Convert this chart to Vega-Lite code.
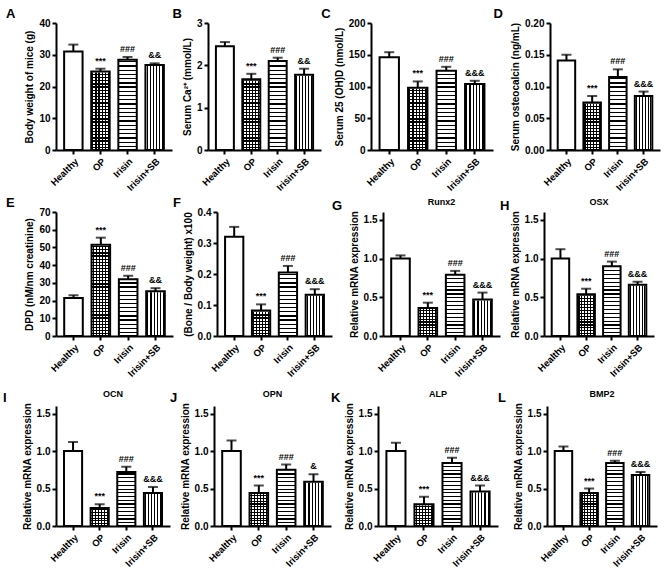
{
"$schema":"https://vega.github.io/schema/vega-lite/v6.json",
"padding":{"left":3,"top":8,"right":4,"bottom":2},
"data":{"values":[
{"p":"A","g":"Healthy","v":31,"hi":33.2,"s":""},{"p":"A","g":"OP","v":24.7,"hi":25.6,"s":"***"},{"p":"A","g":"Irisin","v":28.4,"hi":29.3,"s":"###"},{"p":"A","g":"Irisin+SB","v":26.8,"hi":27.3,"s":"&&"},
{"p":"B","g":"Healthy","v":2.45,"hi":2.55,"s":""},{"p":"B","g":"OP","v":1.67,"hi":1.8,"s":"***"},{"p":"B","g":"Irisin","v":2.1,"hi":2.18,"s":"###"},{"p":"B","g":"Irisin+SB","v":1.78,"hi":1.92,"s":"&&"},
{"p":"C","g":"Healthy","v":146,"hi":154,"s":""},{"p":"C","g":"OP","v":98,"hi":108,"s":"***"},{"p":"C","g":"Irisin","v":125,"hi":131,"s":"###"},{"p":"C","g":"Irisin+SB","v":104,"hi":109,"s":"&&&"},
{"p":"D","g":"Healthy","v":0.141,"hi":0.15,"s":""},{"p":"D","g":"OP","v":0.075,"hi":0.085,"s":"***"},{"p":"D","g":"Irisin","v":0.115,"hi":0.127,"s":"###"},{"p":"D","g":"Irisin+SB","v":0.085,"hi":0.092,"s":"&&&"},
{"p":"E","g":"Healthy","v":21.5,"hi":23,"s":""},{"p":"E","g":"OP","v":51.5,"hi":55.5,"s":"***"},{"p":"E","g":"Irisin","v":32,"hi":34,"s":"###"},{"p":"E","g":"Irisin+SB","v":25.3,"hi":27,"s":"&&"},
{"p":"F","g":"Healthy","v":0.32,"hi":0.352,"s":""},{"p":"F","g":"OP","v":0.082,"hi":0.102,"s":"***"},{"p":"F","g":"Irisin","v":0.205,"hi":0.226,"s":"###"},{"p":"F","g":"Irisin+SB","v":0.133,"hi":0.151,"s":"&&&"},
{"p":"G","g":"Healthy","v":1.0,"hi":1.04,"s":""},{"p":"G","g":"OP","v":0.36,"hi":0.43,"s":"***"},{"p":"G","g":"Irisin","v":0.79,"hi":0.84,"s":"###"},{"p":"G","g":"Irisin+SB","v":0.47,"hi":0.56,"s":"&&&"},
{"p":"H","g":"Healthy","v":1.0,"hi":1.12,"s":""},{"p":"H","g":"OP","v":0.54,"hi":0.61,"s":"***"},{"p":"H","g":"Irisin","v":0.9,"hi":0.96,"s":"###"},{"p":"H","g":"Irisin+SB","v":0.66,"hi":0.7,"s":"&&&"},
{"p":"I","g":"Healthy","v":1.0,"hi":1.12,"s":""},{"p":"I","g":"OP","v":0.24,"hi":0.29,"s":"***"},{"p":"I","g":"Irisin","v":0.72,"hi":0.79,"s":"###"},{"p":"I","g":"Irisin+SB","v":0.44,"hi":0.52,"s":"&&&"},
{"p":"J","g":"Healthy","v":1.0,"hi":1.14,"s":""},{"p":"J","g":"OP","v":0.44,"hi":0.54,"s":"***"},{"p":"J","g":"Irisin","v":0.75,"hi":0.82,"s":"###"},{"p":"J","g":"Irisin+SB","v":0.59,"hi":0.69,"s":"&"},
{"p":"K","g":"Healthy","v":1.0,"hi":1.11,"s":""},{"p":"K","g":"OP","v":0.29,"hi":0.39,"s":"***"},{"p":"K","g":"Irisin","v":0.84,"hi":0.91,"s":"###"},{"p":"K","g":"Irisin+SB","v":0.46,"hi":0.54,"s":"&&&"},
{"p":"L","g":"Healthy","v":1.0,"hi":1.06,"s":""},{"p":"L","g":"OP","v":0.44,"hi":0.5,"s":"***"},{"p":"L","g":"Irisin","v":0.84,"hi":0.87,"s":"###"},{"p":"L","g":"Irisin+SB","v":0.68,"hi":0.72,"s":"&&&"}
]},
"spacing":4,
"vconcat":[
{"spacing":0,"hconcat":[
{"width":116,"height":127,"title":{"text":"A","dx":-19},"transform":[{"filter":"datum.p==='A'"}],
 "encoding":{"x":{"field":"g","type":"nominal","title":null,"scale":{"domain":["Healthy","OP","Irisin","Irisin+SB"],"paddingInner":0.32,"paddingOuter":0.3}}},
 "layer":[
  {"transform":[{"filter":"datum.g==='OP'"}],"mark":{"type":"bar","style":"ho"},"encoding":{"y":{"datum":40,"type":"quantitative","scale":{"domain":[0,40]},"axis":{"values":[0,10,20,30,40],"tickCount":50,"format":"d","title":"Body weight of mice (g)"}},"y2":{"datum":0}}},
  {"transform":[{"filter":"datum.g==='Irisin'"}],"mark":{"type":"bar","style":"hi"},"encoding":{"y":{"datum":40,"type":"quantitative"},"y2":{"datum":0}}},
  {"transform":[{"filter":"datum.g==='OP'||datum.g==='Irisin+SB'"}],"mark":{"type":"bar","style":"vs"},"encoding":{"y":{"datum":40,"type":"quantitative"},"y2":{"datum":0}}},
  {"mark":{"type":"bar","fill":"white","stroke":"white","strokeWidth":2},"encoding":{"y":{"field":"v","type":"quantitative"},"y2":{"datum":40}}},
  {"mark":{"type":"bar","fill":"transparent","stroke":"black","strokeWidth":2},"encoding":{"y":{"field":"v","type":"quantitative"}}},
  {"mark":{"type":"rule","color":"black","strokeWidth":2},"encoding":{"y":{"field":"v","type":"quantitative"},"y2":{"field":"hi"}}},
  {"mark":{"type":"tick","color":"black","thickness":2,"size":10},"encoding":{"y":{"field":"hi","type":"quantitative"}}},
  {"mark":{"type":"text","fontSize":9,"fontWeight":"bold","baseline":"bottom","dy":-3},"encoding":{"y":{"field":"hi","type":"quantitative"},"text":{"field":"s"}}}
 ]},
{"width":113,"height":127,"title":{"text":"B"},"transform":[{"filter":"datum.p==='B'"}],
 "encoding":{"x":{"field":"g","type":"nominal","title":null,"scale":{"domain":["Healthy","OP","Irisin","Irisin+SB"],"paddingInner":0.32,"paddingOuter":0.3}}},
 "layer":[
  {"transform":[{"filter":"datum.g==='OP'"}],"mark":{"type":"bar","style":"ho"},"encoding":{"y":{"datum":3,"type":"quantitative","scale":{"domain":[0,3]},"axis":{"values":[0,1,2,3],"tickCount":50,"format":"d","title":"Serum Ca²⁺ (mmol/L)"}},"y2":{"datum":0}}},
  {"transform":[{"filter":"datum.g==='Irisin'"}],"mark":{"type":"bar","style":"hi"},"encoding":{"y":{"datum":3,"type":"quantitative"},"y2":{"datum":0}}},
  {"transform":[{"filter":"datum.g==='OP'||datum.g==='Irisin+SB'"}],"mark":{"type":"bar","style":"vs"},"encoding":{"y":{"datum":3,"type":"quantitative"},"y2":{"datum":0}}},
  {"mark":{"type":"bar","fill":"white","stroke":"white","strokeWidth":2},"encoding":{"y":{"field":"v","type":"quantitative"},"y2":{"datum":3}}},
  {"mark":{"type":"bar","fill":"transparent","stroke":"black","strokeWidth":2},"encoding":{"y":{"field":"v","type":"quantitative"}}},
  {"mark":{"type":"rule","color":"black","strokeWidth":2},"encoding":{"y":{"field":"v","type":"quantitative"},"y2":{"field":"hi"}}},
  {"mark":{"type":"tick","color":"black","thickness":2,"size":10},"encoding":{"y":{"field":"hi","type":"quantitative"}}},
  {"mark":{"type":"text","fontSize":9,"fontWeight":"bold","baseline":"bottom","dy":-3},"encoding":{"y":{"field":"hi","type":"quantitative"},"text":{"field":"s"}}}
 ]},
{"width":122,"height":127,"title":{"text":"C","dx":-13},"transform":[{"filter":"datum.p==='C'"}],
 "encoding":{"x":{"field":"g","type":"nominal","title":null,"scale":{"domain":["Healthy","OP","Irisin","Irisin+SB"],"paddingInner":0.32,"paddingOuter":0.3}}},
 "layer":[
  {"transform":[{"filter":"datum.g==='OP'"}],"mark":{"type":"bar","style":"ho"},"encoding":{"y":{"datum":200,"type":"quantitative","scale":{"domain":[0,200]},"axis":{"values":[0,50,100,150,200],"tickCount":50,"format":"d","title":"Serum 25 (OH)D (nmol/L)"}},"y2":{"datum":0}}},
  {"transform":[{"filter":"datum.g==='Irisin'"}],"mark":{"type":"bar","style":"hi"},"encoding":{"y":{"datum":200,"type":"quantitative"},"y2":{"datum":0}}},
  {"transform":[{"filter":"datum.g==='OP'||datum.g==='Irisin+SB'"}],"mark":{"type":"bar","style":"vs"},"encoding":{"y":{"datum":200,"type":"quantitative"},"y2":{"datum":0}}},
  {"mark":{"type":"bar","fill":"white","stroke":"white","strokeWidth":2},"encoding":{"y":{"field":"v","type":"quantitative"},"y2":{"datum":200}}},
  {"mark":{"type":"bar","fill":"transparent","stroke":"black","strokeWidth":2},"encoding":{"y":{"field":"v","type":"quantitative"}}},
  {"mark":{"type":"rule","color":"black","strokeWidth":2},"encoding":{"y":{"field":"v","type":"quantitative"},"y2":{"field":"hi"}}},
  {"mark":{"type":"tick","color":"black","thickness":2,"size":10},"encoding":{"y":{"field":"hi","type":"quantitative"}}},
  {"mark":{"type":"text","fontSize":9,"fontWeight":"bold","baseline":"bottom","dy":-3},"encoding":{"y":{"field":"hi","type":"quantitative"},"text":{"field":"s"}}}
 ]},
{"width":110,"height":127,"title":{"text":"D","dx":-17},"transform":[{"filter":"datum.p==='D'"}],
 "encoding":{"x":{"field":"g","type":"nominal","title":null,"scale":{"domain":["Healthy","OP","Irisin","Irisin+SB"],"paddingInner":0.32,"paddingOuter":0.3}}},
 "layer":[
  {"transform":[{"filter":"datum.g==='OP'"}],"mark":{"type":"bar","style":"ho"},"encoding":{"y":{"datum":0.2,"type":"quantitative","scale":{"domain":[0,0.2]},"axis":{"values":[0,0.05,0.1,0.15,0.2],"tickCount":50,"format":".2f","title":"Serum osteocalcin (ng/mL)"}},"y2":{"datum":0}}},
  {"transform":[{"filter":"datum.g==='Irisin'"}],"mark":{"type":"bar","style":"hi"},"encoding":{"y":{"datum":0.2,"type":"quantitative"},"y2":{"datum":0}}},
  {"transform":[{"filter":"datum.g==='OP'||datum.g==='Irisin+SB'"}],"mark":{"type":"bar","style":"vs"},"encoding":{"y":{"datum":0.2,"type":"quantitative"},"y2":{"datum":0}}},
  {"mark":{"type":"bar","fill":"white","stroke":"white","strokeWidth":2},"encoding":{"y":{"field":"v","type":"quantitative"},"y2":{"datum":0.2}}},
  {"mark":{"type":"bar","fill":"transparent","stroke":"black","strokeWidth":2},"encoding":{"y":{"field":"v","type":"quantitative"}}},
  {"mark":{"type":"rule","color":"black","strokeWidth":2},"encoding":{"y":{"field":"v","type":"quantitative"},"y2":{"field":"hi"}}},
  {"mark":{"type":"tick","color":"black","thickness":2,"size":10},"encoding":{"y":{"field":"hi","type":"quantitative"}}},
  {"mark":{"type":"text","fontSize":9,"fontWeight":"bold","baseline":"bottom","dy":-3},"encoding":{"y":{"field":"hi","type":"quantitative"},"text":{"field":"s"}}}
 ]}
]},
{"spacing":11,"vconcat":[
{"spacing":0,"hconcat":[
{"width":117,"height":124,"title":{"text":"E","dx":-19},"transform":[{"filter":"datum.p==='E'"}],
 "encoding":{"x":{"field":"g","type":"nominal","title":null,"scale":{"domain":["Healthy","OP","Irisin","Irisin+SB"],"paddingInner":0.32,"paddingOuter":0.3}}},
 "layer":[
  {"transform":[{"filter":"datum.g==='OP'"}],"mark":{"type":"bar","style":"ho"},"encoding":{"y":{"datum":70,"type":"quantitative","scale":{"domain":[0,70]},"axis":{"values":[0,10,20,30,40,50,60,70],"tickCount":50,"format":"d","title":"DPD (nM/nm creatinine)"}},"y2":{"datum":0}}},
  {"transform":[{"filter":"datum.g==='Irisin'"}],"mark":{"type":"bar","style":"hi"},"encoding":{"y":{"datum":70,"type":"quantitative"},"y2":{"datum":0}}},
  {"transform":[{"filter":"datum.g==='OP'||datum.g==='Irisin+SB'"}],"mark":{"type":"bar","style":"vs"},"encoding":{"y":{"datum":70,"type":"quantitative"},"y2":{"datum":0}}},
  {"mark":{"type":"bar","fill":"white","stroke":"white","strokeWidth":2},"encoding":{"y":{"field":"v","type":"quantitative"},"y2":{"datum":70}}},
  {"mark":{"type":"bar","fill":"transparent","stroke":"black","strokeWidth":2},"encoding":{"y":{"field":"v","type":"quantitative"}}},
  {"mark":{"type":"rule","color":"black","strokeWidth":2},"encoding":{"y":{"field":"v","type":"quantitative"},"y2":{"field":"hi"}}},
  {"mark":{"type":"tick","color":"black","thickness":2,"size":10},"encoding":{"y":{"field":"hi","type":"quantitative"}}},
  {"mark":{"type":"text","fontSize":9,"fontWeight":"bold","baseline":"bottom","dy":-3},"encoding":{"y":{"field":"hi","type":"quantitative"},"text":{"field":"s"}}}
 ]},
{"width":115,"height":124,"title":{"text":"F"},"transform":[{"filter":"datum.p==='F'"}],
 "encoding":{"x":{"field":"g","type":"nominal","title":null,"scale":{"domain":["Healthy","OP","Irisin","Irisin+SB"],"paddingInner":0.32,"paddingOuter":0.3}}},
 "layer":[
  {"transform":[{"filter":"datum.g==='OP'"}],"mark":{"type":"bar","style":"ho"},"encoding":{"y":{"datum":0.4,"type":"quantitative","scale":{"domain":[0,0.4]},"axis":{"values":[0,0.1,0.2,0.3,0.4],"tickCount":50,"format":".1f","title":"(Bone / Body weight) x100"}},"y2":{"datum":0}}},
  {"transform":[{"filter":"datum.g==='Irisin'"}],"mark":{"type":"bar","style":"hi"},"encoding":{"y":{"datum":0.4,"type":"quantitative"},"y2":{"datum":0}}},
  {"transform":[{"filter":"datum.g==='OP'||datum.g==='Irisin+SB'"}],"mark":{"type":"bar","style":"vs"},"encoding":{"y":{"datum":0.4,"type":"quantitative"},"y2":{"datum":0}}},
  {"mark":{"type":"bar","fill":"white","stroke":"white","strokeWidth":2},"encoding":{"y":{"field":"v","type":"quantitative"},"y2":{"datum":0.4}}},
  {"mark":{"type":"bar","fill":"transparent","stroke":"black","strokeWidth":2},"encoding":{"y":{"field":"v","type":"quantitative"}}},
  {"mark":{"type":"rule","color":"black","strokeWidth":2},"encoding":{"y":{"field":"v","type":"quantitative"},"y2":{"field":"hi"}}},
  {"mark":{"type":"tick","color":"black","thickness":2,"size":10},"encoding":{"y":{"field":"hi","type":"quantitative"}}},
  {"mark":{"type":"text","fontSize":9,"fontWeight":"bold","baseline":"bottom","dy":-3},"encoding":{"y":{"field":"hi","type":"quantitative"},"text":{"field":"s"}}}
 ]},
{"title":{"text":"G","offset":-15,"dx":-17},"vconcat":[
{"width":117,"height":124,"title":{"text":"Runx2","anchor":"middle","frame":"group","fontSize":9,"dx":0,"offset":3},"transform":[{"filter":"datum.p==='G'"}],
 "encoding":{"x":{"field":"g","type":"nominal","title":null,"scale":{"domain":["Healthy","OP","Irisin","Irisin+SB"],"paddingInner":0.32,"paddingOuter":0.3}}},
 "layer":[
  {"transform":[{"filter":"datum.g==='OP'"}],"mark":{"type":"bar","style":"ho"},"encoding":{"y":{"datum":1.5,"type":"quantitative","scale":{"domain":[0,1.5]},"axis":{"values":[0,0.5,1,1.5],"tickCount":50,"format":".1f","title":"Relative mRNA expression"}},"y2":{"datum":0}}},
  {"transform":[{"filter":"datum.g==='Irisin'"}],"mark":{"type":"bar","style":"hi"},"encoding":{"y":{"datum":1.5,"type":"quantitative"},"y2":{"datum":0}}},
  {"transform":[{"filter":"datum.g==='OP'||datum.g==='Irisin+SB'"}],"mark":{"type":"bar","style":"vs"},"encoding":{"y":{"datum":1.5,"type":"quantitative"},"y2":{"datum":0}}},
  {"mark":{"type":"bar","fill":"white","stroke":"white","strokeWidth":2},"encoding":{"y":{"field":"v","type":"quantitative"},"y2":{"datum":1.5}}},
  {"mark":{"type":"bar","fill":"transparent","stroke":"black","strokeWidth":2},"encoding":{"y":{"field":"v","type":"quantitative"}}},
  {"mark":{"type":"rule","color":"black","strokeWidth":2},"encoding":{"y":{"field":"v","type":"quantitative"},"y2":{"field":"hi"}}},
  {"mark":{"type":"tick","color":"black","thickness":2,"size":10},"encoding":{"y":{"field":"hi","type":"quantitative"}}},
  {"mark":{"type":"text","fontSize":9,"fontWeight":"bold","baseline":"bottom","dy":-3},"encoding":{"y":{"field":"hi","type":"quantitative"},"text":{"field":"s"}}}
 ]}]},
{"title":{"text":"H","offset":-15},"vconcat":[
{"width":110,"height":124,"title":{"text":"OSX","anchor":"middle","frame":"group","fontSize":9,"dx":0,"offset":3},"transform":[{"filter":"datum.p==='H'"}],
 "encoding":{"x":{"field":"g","type":"nominal","title":null,"scale":{"domain":["Healthy","OP","Irisin","Irisin+SB"],"paddingInner":0.32,"paddingOuter":0.3}}},
 "layer":[
  {"transform":[{"filter":"datum.g==='OP'"}],"mark":{"type":"bar","style":"ho"},"encoding":{"y":{"datum":1.5,"type":"quantitative","scale":{"domain":[0,1.5]},"axis":{"values":[0,0.5,1,1.5],"tickCount":50,"format":".1f","title":"Relative mRNA expression"}},"y2":{"datum":0}}},
  {"transform":[{"filter":"datum.g==='Irisin'"}],"mark":{"type":"bar","style":"hi"},"encoding":{"y":{"datum":1.5,"type":"quantitative"},"y2":{"datum":0}}},
  {"transform":[{"filter":"datum.g==='OP'||datum.g==='Irisin+SB'"}],"mark":{"type":"bar","style":"vs"},"encoding":{"y":{"datum":1.5,"type":"quantitative"},"y2":{"datum":0}}},
  {"mark":{"type":"bar","fill":"white","stroke":"white","strokeWidth":2},"encoding":{"y":{"field":"v","type":"quantitative"},"y2":{"datum":1.5}}},
  {"mark":{"type":"bar","fill":"transparent","stroke":"black","strokeWidth":2},"encoding":{"y":{"field":"v","type":"quantitative"}}},
  {"mark":{"type":"rule","color":"black","strokeWidth":2},"encoding":{"y":{"field":"v","type":"quantitative"},"y2":{"field":"hi"}}},
  {"mark":{"type":"tick","color":"black","thickness":2,"size":10},"encoding":{"y":{"field":"hi","type":"quantitative"}}},
  {"mark":{"type":"text","fontSize":9,"fontWeight":"bold","baseline":"bottom","dy":-3},"encoding":{"y":{"field":"hi","type":"quantitative"},"text":{"field":"s"}}}
 ]}]}
]},
{"spacing":0,"hconcat":[
{"title":{"text":"I","offset":-15,"dx":-19},"vconcat":[
{"width":114,"height":120,"title":{"text":"OCN","anchor":"middle","frame":"group","fontSize":9,"dx":0,"offset":3},"transform":[{"filter":"datum.p==='I'"}],
 "encoding":{"x":{"field":"g","type":"nominal","title":null,"scale":{"domain":["Healthy","OP","Irisin","Irisin+SB"],"paddingInner":0.32,"paddingOuter":0.3}}},
 "layer":[
  {"transform":[{"filter":"datum.g==='OP'"}],"mark":{"type":"bar","style":"ho"},"encoding":{"y":{"datum":1.5,"type":"quantitative","scale":{"domain":[0,1.5]},"axis":{"values":[0,0.5,1,1.5],"tickCount":50,"format":".1f","title":"Relative mRNA expression"}},"y2":{"datum":0}}},
  {"transform":[{"filter":"datum.g==='Irisin'"}],"mark":{"type":"bar","style":"hi"},"encoding":{"y":{"datum":1.5,"type":"quantitative"},"y2":{"datum":0}}},
  {"transform":[{"filter":"datum.g==='OP'||datum.g==='Irisin+SB'"}],"mark":{"type":"bar","style":"vs"},"encoding":{"y":{"datum":1.5,"type":"quantitative"},"y2":{"datum":0}}},
  {"mark":{"type":"bar","fill":"white","stroke":"white","strokeWidth":2},"encoding":{"y":{"field":"v","type":"quantitative"},"y2":{"datum":1.5}}},
  {"mark":{"type":"bar","fill":"transparent","stroke":"black","strokeWidth":2},"encoding":{"y":{"field":"v","type":"quantitative"}}},
  {"mark":{"type":"rule","color":"black","strokeWidth":2},"encoding":{"y":{"field":"v","type":"quantitative"},"y2":{"field":"hi"}}},
  {"mark":{"type":"tick","color":"black","thickness":2,"size":10},"encoding":{"y":{"field":"hi","type":"quantitative"}}},
  {"mark":{"type":"text","fontSize":9,"fontWeight":"bold","baseline":"bottom","dy":-3},"encoding":{"y":{"field":"hi","type":"quantitative"},"text":{"field":"s"}}}
 ]}]},
{"title":{"text":"J","offset":-15},"vconcat":[
{"width":117,"height":120,"title":{"text":"OPN","anchor":"middle","frame":"group","fontSize":9,"dx":0,"offset":3},"transform":[{"filter":"datum.p==='J'"}],
 "encoding":{"x":{"field":"g","type":"nominal","title":null,"scale":{"domain":["Healthy","OP","Irisin","Irisin+SB"],"paddingInner":0.32,"paddingOuter":0.3}}},
 "layer":[
  {"transform":[{"filter":"datum.g==='OP'"}],"mark":{"type":"bar","style":"ho"},"encoding":{"y":{"datum":1.5,"type":"quantitative","scale":{"domain":[0,1.5]},"axis":{"values":[0,0.5,1,1.5],"tickCount":50,"format":".1f","title":"Relative mRNA expression"}},"y2":{"datum":0}}},
  {"transform":[{"filter":"datum.g==='Irisin'"}],"mark":{"type":"bar","style":"hi"},"encoding":{"y":{"datum":1.5,"type":"quantitative"},"y2":{"datum":0}}},
  {"transform":[{"filter":"datum.g==='OP'||datum.g==='Irisin+SB'"}],"mark":{"type":"bar","style":"vs"},"encoding":{"y":{"datum":1.5,"type":"quantitative"},"y2":{"datum":0}}},
  {"mark":{"type":"bar","fill":"white","stroke":"white","strokeWidth":2},"encoding":{"y":{"field":"v","type":"quantitative"},"y2":{"datum":1.5}}},
  {"mark":{"type":"bar","fill":"transparent","stroke":"black","strokeWidth":2},"encoding":{"y":{"field":"v","type":"quantitative"}}},
  {"mark":{"type":"rule","color":"black","strokeWidth":2},"encoding":{"y":{"field":"v","type":"quantitative"},"y2":{"field":"hi"}}},
  {"mark":{"type":"tick","color":"black","thickness":2,"size":10},"encoding":{"y":{"field":"hi","type":"quantitative"}}},
  {"mark":{"type":"text","fontSize":9,"fontWeight":"bold","baseline":"bottom","dy":-3},"encoding":{"y":{"field":"hi","type":"quantitative"},"text":{"field":"s"}}}
 ]}]},
{"title":{"text":"K","offset":-15,"dx":-13},"vconcat":[
{"width":120,"height":120,"title":{"text":"ALP","anchor":"middle","frame":"group","fontSize":9,"dx":0,"offset":3},"transform":[{"filter":"datum.p==='K'"}],
 "encoding":{"x":{"field":"g","type":"nominal","title":null,"scale":{"domain":["Healthy","OP","Irisin","Irisin+SB"],"paddingInner":0.32,"paddingOuter":0.3}}},
 "layer":[
  {"transform":[{"filter":"datum.g==='OP'"}],"mark":{"type":"bar","style":"ho"},"encoding":{"y":{"datum":1.5,"type":"quantitative","scale":{"domain":[0,1.5]},"axis":{"values":[0,0.5,1,1.5],"tickCount":50,"format":".1f","title":"Relative mRNA expression"}},"y2":{"datum":0}}},
  {"transform":[{"filter":"datum.g==='Irisin'"}],"mark":{"type":"bar","style":"hi"},"encoding":{"y":{"datum":1.5,"type":"quantitative"},"y2":{"datum":0}}},
  {"transform":[{"filter":"datum.g==='OP'||datum.g==='Irisin+SB'"}],"mark":{"type":"bar","style":"vs"},"encoding":{"y":{"datum":1.5,"type":"quantitative"},"y2":{"datum":0}}},
  {"mark":{"type":"bar","fill":"white","stroke":"white","strokeWidth":2},"encoding":{"y":{"field":"v","type":"quantitative"},"y2":{"datum":1.5}}},
  {"mark":{"type":"bar","fill":"transparent","stroke":"black","strokeWidth":2},"encoding":{"y":{"field":"v","type":"quantitative"}}},
  {"mark":{"type":"rule","color":"black","strokeWidth":2},"encoding":{"y":{"field":"v","type":"quantitative"},"y2":{"field":"hi"}}},
  {"mark":{"type":"tick","color":"black","thickness":2,"size":10},"encoding":{"y":{"field":"hi","type":"quantitative"}}},
  {"mark":{"type":"text","fontSize":9,"fontWeight":"bold","baseline":"bottom","dy":-3},"encoding":{"y":{"field":"hi","type":"quantitative"},"text":{"field":"s"}}}
 ]}]},
{"title":{"text":"L","offset":-15,"dx":-15},"vconcat":[
{"width":110,"height":120,"title":{"text":"BMP2","anchor":"middle","frame":"group","fontSize":9,"dx":0,"offset":3},"transform":[{"filter":"datum.p==='L'"}],
 "encoding":{"x":{"field":"g","type":"nominal","title":null,"scale":{"domain":["Healthy","OP","Irisin","Irisin+SB"],"paddingInner":0.32,"paddingOuter":0.3}}},
 "layer":[
  {"transform":[{"filter":"datum.g==='OP'"}],"mark":{"type":"bar","style":"ho"},"encoding":{"y":{"datum":1.5,"type":"quantitative","scale":{"domain":[0,1.5]},"axis":{"values":[0,0.5,1,1.5],"tickCount":50,"format":".1f","title":"Relative mRNA expression"}},"y2":{"datum":0}}},
  {"transform":[{"filter":"datum.g==='Irisin'"}],"mark":{"type":"bar","style":"hi"},"encoding":{"y":{"datum":1.5,"type":"quantitative"},"y2":{"datum":0}}},
  {"transform":[{"filter":"datum.g==='OP'||datum.g==='Irisin+SB'"}],"mark":{"type":"bar","style":"vs"},"encoding":{"y":{"datum":1.5,"type":"quantitative"},"y2":{"datum":0}}},
  {"mark":{"type":"bar","fill":"white","stroke":"white","strokeWidth":2},"encoding":{"y":{"field":"v","type":"quantitative"},"y2":{"datum":1.5}}},
  {"mark":{"type":"bar","fill":"transparent","stroke":"black","strokeWidth":2},"encoding":{"y":{"field":"v","type":"quantitative"}}},
  {"mark":{"type":"rule","color":"black","strokeWidth":2},"encoding":{"y":{"field":"v","type":"quantitative"},"y2":{"field":"hi"}}},
  {"mark":{"type":"tick","color":"black","thickness":2,"size":10},"encoding":{"y":{"field":"hi","type":"quantitative"}}},
  {"mark":{"type":"text","fontSize":9,"fontWeight":"bold","baseline":"bottom","dy":-3},"encoding":{"y":{"field":"hi","type":"quantitative"},"text":{"field":"s"}}}
 ]}]}
]}
]}
],
"config":{
 "view":{"stroke":null},
 "legend":{"disable":true},
 "font":"Liberation Sans",
 "axis":{"grid":false,"labelOverlap":false,"domainColor":"black","domainWidth":2,"tickColor":"black","tickWidth":2,"tickSize":4,"labelFont":"Liberation Sans","labelFontWeight":"bold","labelFontSize":10,"labelColor":"black","labelPadding":2,"titleFont":"Liberation Sans","titleFontWeight":"bold","titleFontSize":10,"titleColor":"black","titlePadding":4},
 "axisX":{"labelAngle":-45,"labelFontSize":9.5},
 "title":{"font":"Liberation Sans","fontSize":13,"fontWeight":"bold","color":"black","anchor":"start","frame":"bounds","dx":-10,"offset":-3},
 "style":{
  "ho":{"strokeWidth":0,"color":{"gradient":"linear","x1":0,"y1":0,"x2":0,"y2":1,"stops":[
{"offset":0,"color":"#000"},{"offset":0.01,"color":"#000"},{"offset":0.01,"color":"#fff"},{"offset":0.025,"color":"#fff"},
{"offset":0.025,"color":"#000"},{"offset":0.035,"color":"#000"},{"offset":0.035,"color":"#fff"},{"offset":0.05,"color":"#fff"},
{"offset":0.05,"color":"#000"},{"offset":0.06,"color":"#000"},{"offset":0.06,"color":"#fff"},{"offset":0.075,"color":"#fff"},
{"offset":0.075,"color":"#000"},{"offset":0.085,"color":"#000"},{"offset":0.085,"color":"#fff"},{"offset":0.1,"color":"#fff"},
{"offset":0.1,"color":"#000"},{"offset":0.11,"color":"#000"},{"offset":0.11,"color":"#fff"},{"offset":0.125,"color":"#fff"},
{"offset":0.125,"color":"#000"},{"offset":0.135,"color":"#000"},{"offset":0.135,"color":"#fff"},{"offset":0.15,"color":"#fff"},
{"offset":0.15,"color":"#000"},{"offset":0.16,"color":"#000"},{"offset":0.16,"color":"#fff"},{"offset":0.175,"color":"#fff"},
{"offset":0.175,"color":"#000"},{"offset":0.185,"color":"#000"},{"offset":0.185,"color":"#fff"},{"offset":0.2,"color":"#fff"},
{"offset":0.2,"color":"#000"},{"offset":0.21,"color":"#000"},{"offset":0.21,"color":"#fff"},{"offset":0.225,"color":"#fff"},
{"offset":0.225,"color":"#000"},{"offset":0.235,"color":"#000"},{"offset":0.235,"color":"#fff"},{"offset":0.25,"color":"#fff"},
{"offset":0.25,"color":"#000"},{"offset":0.26,"color":"#000"},{"offset":0.26,"color":"#fff"},{"offset":0.275,"color":"#fff"},
{"offset":0.275,"color":"#000"},{"offset":0.285,"color":"#000"},{"offset":0.285,"color":"#fff"},{"offset":0.3,"color":"#fff"},
{"offset":0.3,"color":"#000"},{"offset":0.31,"color":"#000"},{"offset":0.31,"color":"#fff"},{"offset":0.325,"color":"#fff"},
{"offset":0.325,"color":"#000"},{"offset":0.335,"color":"#000"},{"offset":0.335,"color":"#fff"},{"offset":0.35,"color":"#fff"},
{"offset":0.35,"color":"#000"},{"offset":0.36,"color":"#000"},{"offset":0.36,"color":"#fff"},{"offset":0.375,"color":"#fff"},
{"offset":0.375,"color":"#000"},{"offset":0.385,"color":"#000"},{"offset":0.385,"color":"#fff"},{"offset":0.4,"color":"#fff"},
{"offset":0.4,"color":"#000"},{"offset":0.41,"color":"#000"},{"offset":0.41,"color":"#fff"},{"offset":0.425,"color":"#fff"},
{"offset":0.425,"color":"#000"},{"offset":0.435,"color":"#000"},{"offset":0.435,"color":"#fff"},{"offset":0.45,"color":"#fff"},
{"offset":0.45,"color":"#000"},{"offset":0.46,"color":"#000"},{"offset":0.46,"color":"#fff"},{"offset":0.475,"color":"#fff"},
{"offset":0.475,"color":"#000"},{"offset":0.485,"color":"#000"},{"offset":0.485,"color":"#fff"},{"offset":0.5,"color":"#fff"},
{"offset":0.5,"color":"#000"},{"offset":0.51,"color":"#000"},{"offset":0.51,"color":"#fff"},{"offset":0.525,"color":"#fff"},
{"offset":0.525,"color":"#000"},{"offset":0.535,"color":"#000"},{"offset":0.535,"color":"#fff"},{"offset":0.55,"color":"#fff"},
{"offset":0.55,"color":"#000"},{"offset":0.56,"color":"#000"},{"offset":0.56,"color":"#fff"},{"offset":0.575,"color":"#fff"},
{"offset":0.575,"color":"#000"},{"offset":0.585,"color":"#000"},{"offset":0.585,"color":"#fff"},{"offset":0.6,"color":"#fff"},
{"offset":0.6,"color":"#000"},{"offset":0.61,"color":"#000"},{"offset":0.61,"color":"#fff"},{"offset":0.625,"color":"#fff"},
{"offset":0.625,"color":"#000"},{"offset":0.635,"color":"#000"},{"offset":0.635,"color":"#fff"},{"offset":0.65,"color":"#fff"},
{"offset":0.65,"color":"#000"},{"offset":0.66,"color":"#000"},{"offset":0.66,"color":"#fff"},{"offset":0.675,"color":"#fff"},
{"offset":0.675,"color":"#000"},{"offset":0.685,"color":"#000"},{"offset":0.685,"color":"#fff"},{"offset":0.7,"color":"#fff"},
{"offset":0.7,"color":"#000"},{"offset":0.71,"color":"#000"},{"offset":0.71,"color":"#fff"},{"offset":0.725,"color":"#fff"},
{"offset":0.725,"color":"#000"},{"offset":0.735,"color":"#000"},{"offset":0.735,"color":"#fff"},{"offset":0.75,"color":"#fff"},
{"offset":0.75,"color":"#000"},{"offset":0.76,"color":"#000"},{"offset":0.76,"color":"#fff"},{"offset":0.775,"color":"#fff"},
{"offset":0.775,"color":"#000"},{"offset":0.785,"color":"#000"},{"offset":0.785,"color":"#fff"},{"offset":0.8,"color":"#fff"},
{"offset":0.8,"color":"#000"},{"offset":0.81,"color":"#000"},{"offset":0.81,"color":"#fff"},{"offset":0.825,"color":"#fff"},
{"offset":0.825,"color":"#000"},{"offset":0.835,"color":"#000"},{"offset":0.835,"color":"#fff"},{"offset":0.85,"color":"#fff"},
{"offset":0.85,"color":"#000"},{"offset":0.86,"color":"#000"},{"offset":0.86,"color":"#fff"},{"offset":0.875,"color":"#fff"},
{"offset":0.875,"color":"#000"},{"offset":0.885,"color":"#000"},{"offset":0.885,"color":"#fff"},{"offset":0.9,"color":"#fff"},
{"offset":0.9,"color":"#000"},{"offset":0.91,"color":"#000"},{"offset":0.91,"color":"#fff"},{"offset":0.925,"color":"#fff"},
{"offset":0.925,"color":"#000"},{"offset":0.935,"color":"#000"},{"offset":0.935,"color":"#fff"},{"offset":0.95,"color":"#fff"},
{"offset":0.95,"color":"#000"},{"offset":0.96,"color":"#000"},{"offset":0.96,"color":"#fff"},{"offset":0.975,"color":"#fff"},
{"offset":0.975,"color":"#000"},{"offset":0.985,"color":"#000"},{"offset":0.985,"color":"#fff"},{"offset":1,"color":"#fff"}
]}},
  "hi":{"strokeWidth":0,"color":{"gradient":"linear","x1":0,"y1":0,"x2":0,"y2":1,"stops":[
{"offset":0,"color":"#000"},{"offset":0.01,"color":"#000"},{"offset":0.01,"color":"#fff"},{"offset":0.0333,"color":"#fff"},
{"offset":0.0333,"color":"#000"},{"offset":0.0433,"color":"#000"},{"offset":0.0433,"color":"#fff"},{"offset":0.0667,"color":"#fff"},
{"offset":0.0667,"color":"#000"},{"offset":0.0767,"color":"#000"},{"offset":0.0767,"color":"#fff"},{"offset":0.1,"color":"#fff"},
{"offset":0.1,"color":"#000"},{"offset":0.11,"color":"#000"},{"offset":0.11,"color":"#fff"},{"offset":0.1333,"color":"#fff"},
{"offset":0.1333,"color":"#000"},{"offset":0.1433,"color":"#000"},{"offset":0.1433,"color":"#fff"},{"offset":0.1667,"color":"#fff"},
{"offset":0.1667,"color":"#000"},{"offset":0.1767,"color":"#000"},{"offset":0.1767,"color":"#fff"},{"offset":0.2,"color":"#fff"},
{"offset":0.2,"color":"#000"},{"offset":0.21,"color":"#000"},{"offset":0.21,"color":"#fff"},{"offset":0.2333,"color":"#fff"},
{"offset":0.2333,"color":"#000"},{"offset":0.2433,"color":"#000"},{"offset":0.2433,"color":"#fff"},{"offset":0.2667,"color":"#fff"},
{"offset":0.2667,"color":"#000"},{"offset":0.2767,"color":"#000"},{"offset":0.2767,"color":"#fff"},{"offset":0.3,"color":"#fff"},
{"offset":0.3,"color":"#000"},{"offset":0.31,"color":"#000"},{"offset":0.31,"color":"#fff"},{"offset":0.3333,"color":"#fff"},
{"offset":0.3333,"color":"#000"},{"offset":0.3433,"color":"#000"},{"offset":0.3433,"color":"#fff"},{"offset":0.3667,"color":"#fff"},
{"offset":0.3667,"color":"#000"},{"offset":0.3767,"color":"#000"},{"offset":0.3767,"color":"#fff"},{"offset":0.4,"color":"#fff"},
{"offset":0.4,"color":"#000"},{"offset":0.41,"color":"#000"},{"offset":0.41,"color":"#fff"},{"offset":0.4333,"color":"#fff"},
{"offset":0.4333,"color":"#000"},{"offset":0.4433,"color":"#000"},{"offset":0.4433,"color":"#fff"},{"offset":0.4667,"color":"#fff"},
{"offset":0.4667,"color":"#000"},{"offset":0.4767,"color":"#000"},{"offset":0.4767,"color":"#fff"},{"offset":0.5,"color":"#fff"},
{"offset":0.5,"color":"#000"},{"offset":0.51,"color":"#000"},{"offset":0.51,"color":"#fff"},{"offset":0.5333,"color":"#fff"},
{"offset":0.5333,"color":"#000"},{"offset":0.5433,"color":"#000"},{"offset":0.5433,"color":"#fff"},{"offset":0.5667,"color":"#fff"},
{"offset":0.5667,"color":"#000"},{"offset":0.5767,"color":"#000"},{"offset":0.5767,"color":"#fff"},{"offset":0.6,"color":"#fff"},
{"offset":0.6,"color":"#000"},{"offset":0.61,"color":"#000"},{"offset":0.61,"color":"#fff"},{"offset":0.6333,"color":"#fff"},
{"offset":0.6333,"color":"#000"},{"offset":0.6433,"color":"#000"},{"offset":0.6433,"color":"#fff"},{"offset":0.6667,"color":"#fff"},
{"offset":0.6667,"color":"#000"},{"offset":0.6767,"color":"#000"},{"offset":0.6767,"color":"#fff"},{"offset":0.7,"color":"#fff"},
{"offset":0.7,"color":"#000"},{"offset":0.71,"color":"#000"},{"offset":0.71,"color":"#fff"},{"offset":0.7333,"color":"#fff"},
{"offset":0.7333,"color":"#000"},{"offset":0.7433,"color":"#000"},{"offset":0.7433,"color":"#fff"},{"offset":0.7667,"color":"#fff"},
{"offset":0.7667,"color":"#000"},{"offset":0.7767,"color":"#000"},{"offset":0.7767,"color":"#fff"},{"offset":0.8,"color":"#fff"},
{"offset":0.8,"color":"#000"},{"offset":0.81,"color":"#000"},{"offset":0.81,"color":"#fff"},{"offset":0.8333,"color":"#fff"},
{"offset":0.8333,"color":"#000"},{"offset":0.8433,"color":"#000"},{"offset":0.8433,"color":"#fff"},{"offset":0.8667,"color":"#fff"},
{"offset":0.8667,"color":"#000"},{"offset":0.8767,"color":"#000"},{"offset":0.8767,"color":"#fff"},{"offset":0.9,"color":"#fff"},
{"offset":0.9,"color":"#000"},{"offset":0.91,"color":"#000"},{"offset":0.91,"color":"#fff"},{"offset":0.9333,"color":"#fff"},
{"offset":0.9333,"color":"#000"},{"offset":0.9433,"color":"#000"},{"offset":0.9433,"color":"#fff"},{"offset":0.9667,"color":"#fff"},
{"offset":0.9667,"color":"#000"},{"offset":0.9767,"color":"#000"},{"offset":0.9767,"color":"#fff"},{"offset":1,"color":"#fff"}
]}},
  "vs":{"strokeWidth":0,"color":{"gradient":"linear","x1":0,"y1":0,"x2":1,"y2":0,"stops":[
{"offset":0.06,"color":"rgba(0,0,0,0)"},{"offset":0.06,"color":"#000"},{"offset":0.12,"color":"#000"},{"offset":0.12,"color":"rgba(0,0,0,0)"},
{"offset":0.2267,"color":"rgba(0,0,0,0)"},{"offset":0.2267,"color":"#000"},{"offset":0.2867,"color":"#000"},{"offset":0.2867,"color":"rgba(0,0,0,0)"},
{"offset":0.3933,"color":"rgba(0,0,0,0)"},{"offset":0.3933,"color":"#000"},{"offset":0.4533,"color":"#000"},{"offset":0.4533,"color":"rgba(0,0,0,0)"},
{"offset":0.56,"color":"rgba(0,0,0,0)"},{"offset":0.56,"color":"#000"},{"offset":0.62,"color":"#000"},{"offset":0.62,"color":"rgba(0,0,0,0)"},
{"offset":0.7267,"color":"rgba(0,0,0,0)"},{"offset":0.7267,"color":"#000"},{"offset":0.7867,"color":"#000"},{"offset":0.7867,"color":"rgba(0,0,0,0)"},
{"offset":0.8933,"color":"rgba(0,0,0,0)"},{"offset":0.8933,"color":"#000"},{"offset":0.9533,"color":"#000"},{"offset":0.9533,"color":"rgba(0,0,0,0)"}
]}}
 }
}
}
